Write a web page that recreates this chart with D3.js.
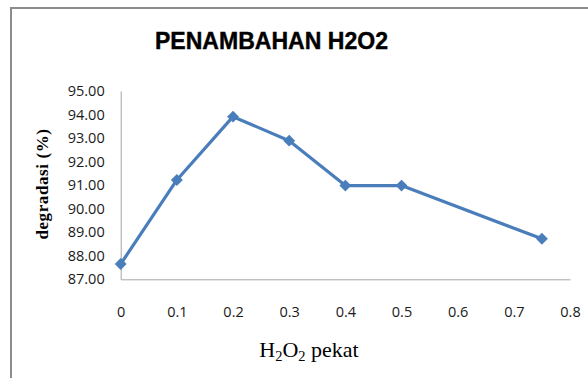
<!DOCTYPE html>
<html>
<head>
<meta charset="utf-8">
<script src="https://cdn.jsdelivr.net/npm/d3@7"></script>
<style>
  body { margin: 0; background: #fff; }
  svg { display: block; }
</style>
</head>
<body>
<div id="chart"></div>
<script>
const width = 588, height = 378;

// data
const xValues = [0, 0.1, 0.2, 0.3, 0.4, 0.5, 0.75];
const degradasi = [87.65, 91.22, 93.91, 92.89, 90.98, 90.98, 88.72];
const xTicks = [0, 0.1, 0.2, 0.3, 0.4, 0.5, 0.6, 0.7, 0.8];
const yTicks = [87, 88, 89, 90, 91, 92, 93, 94, 95];

const svg = d3.select("#chart")
    .append("svg")
    .attr("width", width)
    .attr("height", height);

// outer chart frame (runs off the picture right and bottom)
svg.append("path")
    .attr("d", "M11,390 L11,8 L600,8")
    .attr("fill", "none")
    .attr("stroke", "#8c8c8c")
    .attr("stroke-width", 2);

const x = d3.scaleLinear().domain([0, 0.8]).range([120.7, 570]);
const y = d3.scaleLinear().domain([87, 95]).range([279.3, 91]);

// title
svg.append("text")
    .attr("x", 271.5)
    .attr("y", 49)
    .attr("text-anchor", "middle")
    .attr("font-family", "Liberation Sans, Arial, sans-serif")
    .attr("font-weight", "bold")
    .attr("font-size", 23)
    .attr("stroke", "#000")
    .attr("stroke-width", 0.4)
    .attr("textLength", 233)
    .attr("lengthAdjust", "spacingAndGlyphs")
    .text("PENAMBAHAN H2O2");

// axes
const xAxis = svg.append("g")
    .attr("transform", `translate(0,${y(87)})`)
    .call(d3.axisBottom(x).tickValues(xTicks).tickSize(0).tickPadding(33)
        .tickFormat(d => d === 0 ? "0" : d3.format(".1f")(d)));

const yAxis = svg.append("g")
    .attr("transform", `translate(${x(0)},0)`)
    .call(d3.axisLeft(y).tickValues(yTicks).tickSize(0).tickPadding(16)
        .tickFormat(d3.format(".2f")));

[xAxis, yAxis].forEach(g => {
    g.select(".domain").attr("stroke", "#a6a6a6").attr("stroke-width", 1);
    g.selectAll("text")
        .attr("fill", "#1a1a1a")
        .attr("font-family", "Open Sans, Liberation Sans, sans-serif")
        .attr("font-size", 14.5);
});
xAxis.selectAll("text").attr("dy", "0.32em");

// axis titles
svg.append("text")
    .attr("transform", "translate(48,184) rotate(-90)")
    .attr("text-anchor", "middle")
    .attr("font-family", "Liberation Serif, Times New Roman, serif")
    .attr("font-weight", "bold")
    .attr("font-size", 17)
    .attr("letter-spacing", 0.6)
    .text("degradasi (%)");

const xt = svg.append("text")
    .attr("x", 309)
    .attr("y", 357)
    .attr("text-anchor", "middle")
    .attr("font-family", "Liberation Serif, Times New Roman, serif")
    .attr("font-size", 22);
xt.append("tspan").text("H");
xt.append("tspan").attr("font-size", 14.5).attr("dy", 4).text("2");
xt.append("tspan").attr("dy", -4).text("O");
xt.append("tspan").attr("font-size", 14.5).attr("dy", 4).text("2");
xt.append("tspan").attr("dy", -4).text(" pekat");

// series
const points = xValues.map((v, i) => ({ x: v, y: degradasi[i] }));

svg.append("path")
    .datum(points)
    .attr("fill", "none")
    .attr("stroke", "#4a7ebb")
    .attr("stroke-width", 3.2)
    .attr("stroke-linejoin", "round")
    .attr("d", d3.line().x(d => x(d.x)).y(d => y(d.y)));

svg.selectAll(".marker")
    .data(points)
    .enter()
    .append("path")
    .attr("class", "marker")
    .attr("transform", d => `translate(${x(d.x)},${y(d.y)})`)
    .attr("d", d3.symbol().type(d3.symbolDiamond2).size(90))
    .attr("fill", "#4a7ebb");
</script>
</body>
</html>
